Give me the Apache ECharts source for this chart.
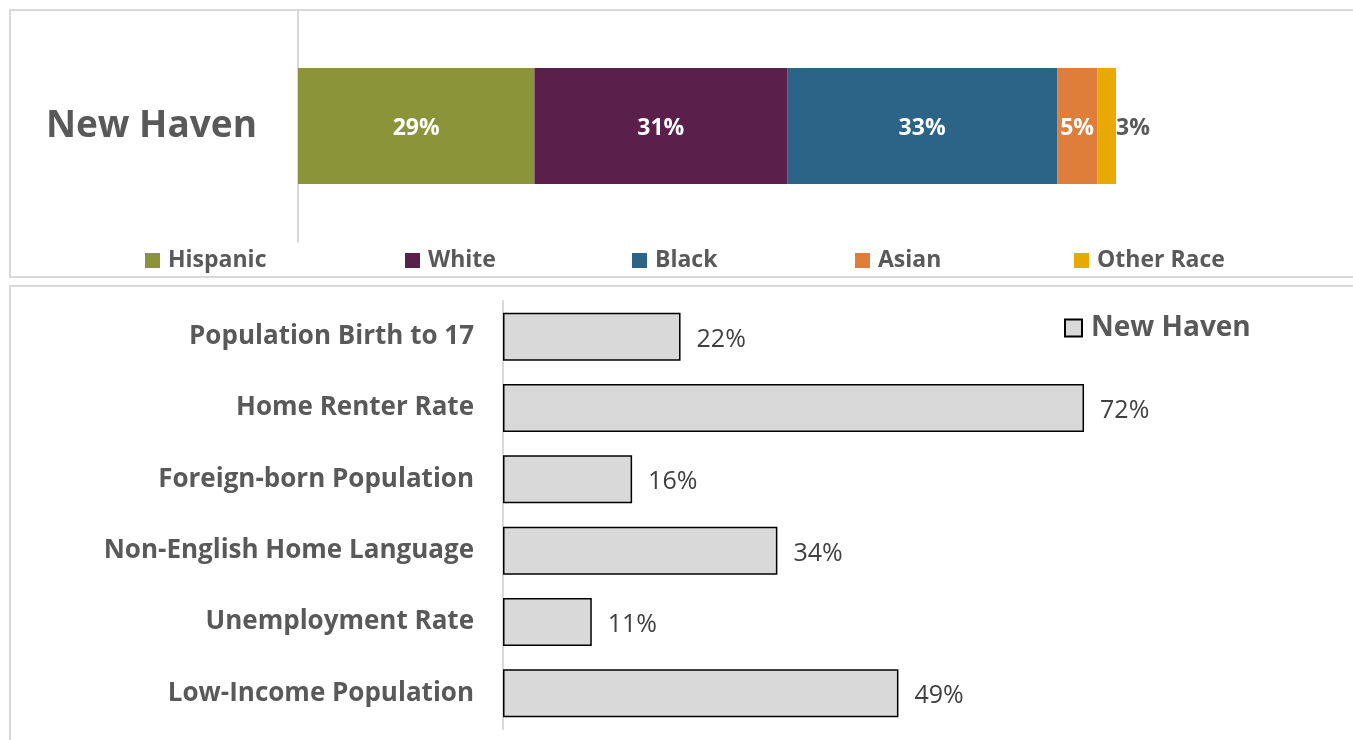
<!DOCTYPE html>
<html>
<head>
<meta charset="utf-8">
<script src="https://cdn.jsdelivr.net/npm/echarts@6/dist/echarts.min.js"></script>
<style>
  html, body { margin: 0; padding: 0; background: #fff; }
  #main { width: 1353px; height: 740px; }
</style>
</head>
<body>
<div id="main"></div>
<script>
  // data
  var place = ['New Haven'];
  var races = ['Hispanic', 'White', 'Black', 'Asian', 'Other Race'];
  var raceShare = [28.9, 30.9, 33.0, 4.9, 2.5];
  var indicators = ['Population Birth to 17', 'Home Renter Rate', 'Foreign-born Population',
    'Non-English Home Language', 'Unemployment Rate', 'Low-Income Population'];
  var indicatorValues = [22, 72, 16, 34, 11, 49];

  var raceColors = ['#8b9438', '#5b1f4c', '#2b6487', '#de7e3a', '#e8a900'];
  var legendLeft = [140, 400, 627, 850, 1069];
  var gray = '#595959';
  var font = 'Open Sans';

  var chart = echarts.init(document.getElementById('main'));

  var pct = function (p) { return Math.round(p.value) + '%'; };

  var raceSeries = races.map(function (name, i) {
    var last = i === races.length - 1;
    return {
      name: name,
      type: 'bar',
      stack: 'race',
      xAxisIndex: 0,
      yAxisIndex: 0,
      barWidth: 116,
      data: [raceShare[i]],
      itemStyle: { color: raceColors[i] },
      label: {
        show: true,
        position: last ? 'right' : 'inside',
        distance: 0,
        offset: [0, 2],
        formatter: pct,
        color: last ? gray : '#fff',
        fontFamily: font,
        fontWeight: 'bold',
        fontSize: 23
      }
    };
  });

  // one legend per race so each entry sits where the original puts it
  var raceLegends = races.map(function (name, i) {
    return {
      data: [name],
      left: legendLeft[i],
      top: 244,
      icon: 'rect',
      itemWidth: 15,
      itemHeight: 15,
      textStyle: { color: gray, fontFamily: font, fontWeight: 'bold', fontSize: 23, padding: [0, 0, 0, 3] }
    };
  });

  var option = {
    animation: false,
    textStyle: { fontFamily: font },
    graphic: [
      { type: 'rect', z: -1, shape: { x: 10, y: 10, width: 1360, height: 267 },
        style: { fill: 'none', stroke: '#d9d9d9', lineWidth: 2 } },
      { type: 'rect', z: -1, shape: { x: 10, y: 286, width: 1360, height: 470 },
        style: { fill: 'none', stroke: '#d9d9d9', lineWidth: 2 } }
    ],
    legend: raceLegends.concat([
      {
        data: place,
        left: 1059,
        top: 309,
        icon: 'rect',
        itemWidth: 17,
        itemHeight: 17,
        itemStyle: { borderColor: '#000', borderWidth: 2 },
        textStyle: { color: gray, fontFamily: font, fontWeight: 'bold', fontSize: 28, padding: [0, 0, 0, 4] }
      }
    ]),
    grid: [
      { left: 298, top: 10, width: 818, height: 232 },
      { left: 503, top: 301, width: 807, height: 428 }
    ],
    xAxis: [
      { gridIndex: 0, type: 'value', min: 0, max: 100, show: false },
      { gridIndex: 1, type: 'value', min: 0, max: 100, show: false }
    ],
    yAxis: [
      {
        gridIndex: 0,
        type: 'category',
        data: place,
        axisLine: { show: true, lineStyle: { color: '#d9d9d9', width: 2 } },
        axisTick: { show: false },
        axisLabel: { margin: 41, color: gray, fontFamily: font, fontWeight: 'bold', fontSize: 37 }
      },
      {
        gridIndex: 1,
        type: 'category',
        inverse: true,
        data: indicators,
        axisLine: { show: true, lineStyle: { color: '#d9d9d9', width: 2 } },
        axisTick: { show: false },
        axisLabel: { margin: 29, color: gray, fontFamily: font, fontWeight: 'bold', fontSize: 26, padding: [5, 0, 0, 0] }
      }
    ],
    series: raceSeries.concat([
      {
        name: place[0],
        type: 'bar',
        xAxisIndex: 1,
        yAxisIndex: 1,
        barWidth: 48,
        data: indicatorValues,
        itemStyle: { color: '#d9d9d9', borderColor: '#000', borderWidth: 1.5 },
        label: {
          show: true,
          position: 'right',
          distance: 16,
          offset: [0, 3],
          formatter: pct,
          color: '#404040',
          fontFamily: font,
          fontSize: 25
        }
      }
    ])
  };

  chart.setOption(option);
  window.addEventListener('resize', function () { chart.resize(); });
</script>
</body>
</html>
